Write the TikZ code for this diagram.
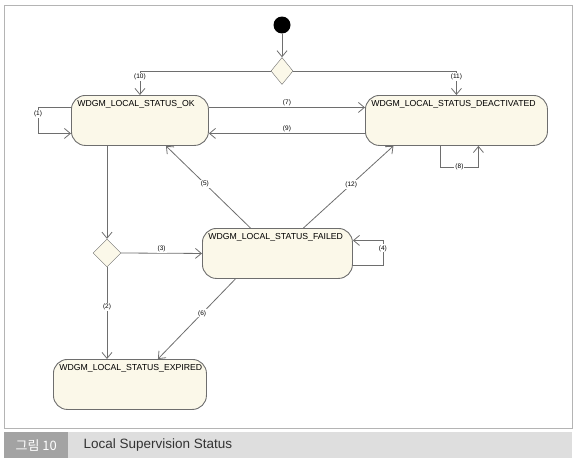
\documentclass[tikz,border=0pt]{standalone}
\usepackage{fontspec}
\setmainfont{Liberation Sans}
\newfontfamily\krfont{Noto Sans CJK KR}
\usetikzlibrary{arrows.meta,shapes.geometric}
\definecolor{cream}{HTML}{FBF8E9}
\definecolor{linegray}{HTML}{6E6E6E}
\definecolor{framegray}{HTML}{B4B4B4}
\definecolor{capdark}{HTML}{A3A3A3}
\definecolor{caplight}{HTML}{DEDEDE}

\begin{document}
\begin{tikzpicture}[
  x=1pt,y=-1pt,
  state/.style={draw=linegray,fill=cream,rounded corners=14pt,anchor=north west,align=left,
    inner xsep=6pt,inner ysep=4pt,text height=7pt,text depth=35pt,line width=0.9pt,
    font=\fontsize{8.7}{9}\selectfont},
  decision/.style={diamond,draw=linegray,fill=cream,minimum width=22pt,minimum height=27pt,inner sep=0pt},
  initial/.style={circle,fill=black,minimum size=17pt,inner sep=0pt},
  arr/.style={-{Straight Barb[length=6pt,width=10pt]},draw=linegray,line width=0.8pt},
  lab/.style={font=\fontsize{6.5}{6.5}\selectfont,fill=white,inner sep=1pt}
]
\useasboundingbox (0,0) rectangle (576,463);
\draw[framegray,line width=1pt] (4,5) rectangle (572,428);
\fill[caplight] (4,432) rectangle (572,458);
\node[fill=capdark,minimum width=64pt,minimum height=26pt,anchor=north west,text=white,
  font=\krfont\fontsize{13}{13}\selectfont] (fignum) at (4,432) {그림 10};
\node[anchor=west,font=\fontsize{13.5}{13.5}\selectfont,text=black!80] (figtitle) at (80,445) {Local Supervision Status};

\node[initial] (start) at (282,25) {};
\node[decision] (split) at (282,71) {};
\node[state,text width=125pt] (ok) at (71,95) {WDGM\_LOCAL\_STATUS\_OK};
\node[state,text width=170pt] (deact) at (365,95) {WDGM\_LOCAL\_STATUS\_DEACTIVATED};
\node[decision,minimum width=28pt,minimum height=28pt] (join) at (107,253) {};
\node[state,text width=138pt] (failed) at (202,228) {WDGM\_LOCAL\_STATUS\_FAILED};
\node[state,text width=141pt] (expired) at (53,359) {WDGM\_LOCAL\_STATUS\_EXPIRED};

\draw[arr] (start) -- (split);
\draw[arr] (split.west) -| node[lab,pos=0.62]{(10)} (ok.north);
\draw[arr] (split.east) -| node[lab,pos=0.62]{(11)} (deact.north);
\draw[arr] ([yshift=13pt]ok.east) -- node[lab,above]{(7)} ([yshift=13pt]deact.west);
\draw[arr] ([yshift=-13pt]deact.west) -- node[lab,above]{(9)} ([yshift=-13pt]ok.east);
\draw[arr] ([yshift=13pt]ok.west) -- ++(-33,0) |- node[lab,pos=0.12]{(1)} ([yshift=-13pt]ok.west);
\draw[arr] ([xshift=-16pt]deact.south) -- ++(0,21) -| node[lab,pos=0.25]{(8)} ([xshift=22pt]deact.south);
\draw[arr] (ok.south -| join.north) -- (join.north);
\draw[arr] (join.east) -- node[lab,above]{(3)} (failed.west);
\draw[arr] ([yshift=-12pt]failed.east) -- ++(30,0) |- node[lab,pos=0.34]{(4)} ([yshift=13pt]failed.east);
\draw[arr] ([xshift=-27pt]failed.north) -- node[lab,pos=0.54]{(5)} ([xshift=26pt]ok.south);
\draw[arr] ([xshift=26pt]failed.north) -- node[lab,pos=0.53]{(12)} ([xshift=-63pt]deact.south);
\draw[arr] ([xshift=-42pt]failed.south) -- node[lab,pos=0.43]{(6)} ([xshift=28pt]expired.north);
\draw[arr] (join.south) -- node[lab,pos=0.43]{(2)} (join.south |- expired.north);
\end{tikzpicture}
\end{document}
